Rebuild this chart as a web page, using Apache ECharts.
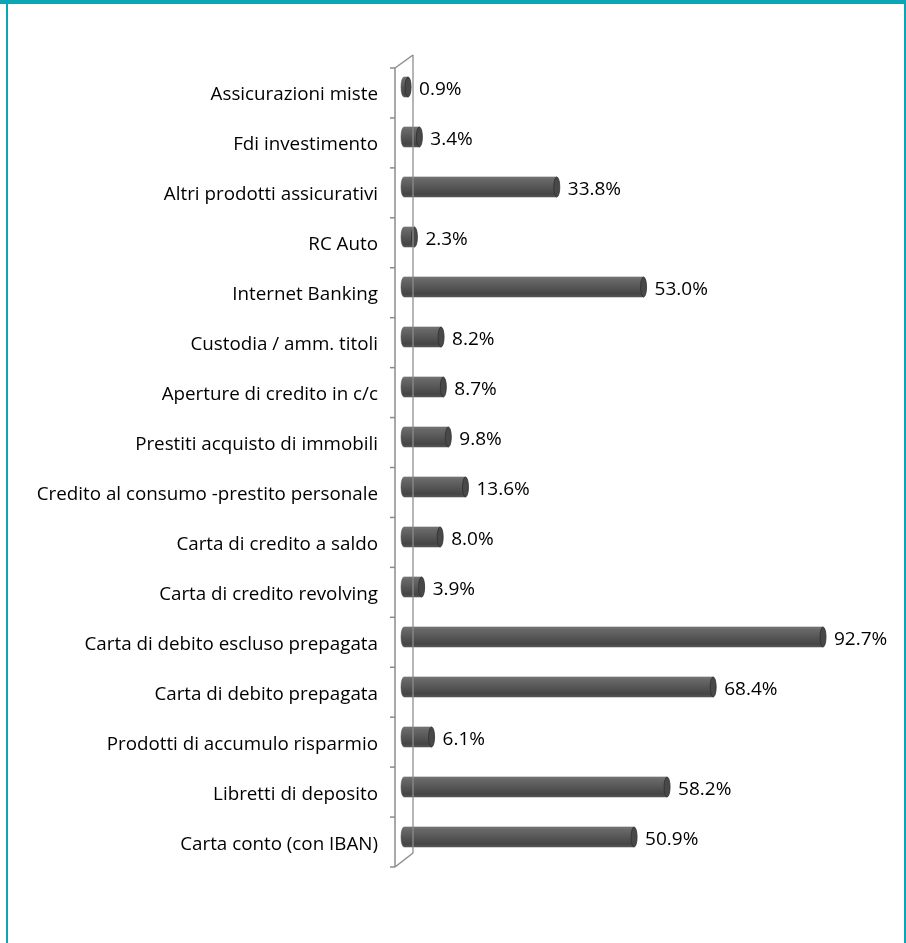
<!DOCTYPE html>
<html><head><meta charset="utf-8">
<script src="https://cdn.jsdelivr.net/npm/echarts@6/dist/echarts.min.js"></script>
<style>html,body{margin:0;padding:0;background:#fff;} #c{width:906px;height:943px;}</style>
</head><body><div id="c"></div>
<script>
const categories = ['Assicurazioni miste','Fdi investimento','Altri prodotti assicurativi','RC Auto','Internet Banking','Custodia / amm. titoli','Aperture di credito in c/c','Prestiti acquisto di immobili','Credito al consumo -prestito personale','Carta di credito a saldo','Carta di credito revolving','Carta di debito escluso prepagata','Carta di debito prepagata','Prodotti di accumulo risparmio','Libretti di deposito','Carta conto (con IBAN)'];
const values = [0.9, 3.4, 33.8, 2.3, 53.0, 8.2, 8.7, 9.8, 13.6, 8.0, 3.9, 92.7, 68.4, 6.1, 58.2, 50.9];

const GL = 404, GT = 62, GW = 452, GH = 800;
const FONT = 'Open Sans';
const chart = echarts.init(document.getElementById('c'), null, {renderer: 'canvas'});

function barGrad() {
  return {type: 'linear', x: 0, y: 0, x2: 0, y2: 1, colorStops: [
    {offset: 0, color: '#8a8a8a'}, {offset: 0.1, color: '#6a6a6a'},
    {offset: 0.45, color: '#595959'}, {offset: 0.85, color: '#444'},
    {offset: 1, color: '#5a5a5a'}]};
}

function renderItem(params, api) {
  const idx = api.value(1);
  const v = api.value(0);
  const p0 = api.coord([0, idx]);
  const p1 = api.coord([v, idx]);
  const h = 20, rx = 3;
  const x0 = p0[0], x1 = p1[0], cy = p0[1];
  const t = cy - h / 2, b = cy + h / 2;
  const body = 'M' + x0 + ' ' + t + ' L' + x1 + ' ' + t + ' L' + x1 + ' ' + b + ' L' + x0 + ' ' + b +
    ' A' + rx + ' ' + (h / 2) + ' 0 0 1 ' + x0 + ' ' + t + ' Z';
  const cap = 'M' + x1 + ' ' + t + ' A' + rx + ' ' + (h / 2) + ' 0 1 1 ' + x1 + ' ' + b +
    ' A' + rx + ' ' + (h / 2) + ' 0 1 1 ' + x1 + ' ' + t + ' Z';
  return {type: 'group', children: [
    {type: 'path', shape: {pathData: body}, style: {fill: barGrad(), stroke: '#4a4a4a', lineWidth: 0.5}},
    {type: 'path', shape: {pathData: cap}, style: {fill: '#484848', stroke: '#303030', lineWidth: 0.8}},
    {type: 'text', x: x1 + rx + 8, y: cy + 3, style: {text: v.toFixed(1) + '%', fill: '#000',
      fontSize: 19, fontFamily: FONT, verticalAlign: 'middle', align: 'left'}}
  ]};
}

// 3D axis wall decoration
const WC = '#8c8c8c';
const fx = GL - 9, bx = GL + 9;
const fTop = GT + 6, fBot = GT + GH + 5, bTop = GT - 7, bBot = GT + GH - 9;
const wall = [
  {type: 'line', shape: {x1: fx, y1: fTop, x2: fx, y2: fBot}, style: {stroke: WC, lineWidth: 1.5}},
  {type: 'line', shape: {x1: fx, y1: fTop, x2: bx, y2: bTop}, style: {stroke: WC, lineWidth: 1.5}},
  {type: 'line', shape: {x1: bx, y1: bBot, x2: fx, y2: fBot}, style: {stroke: WC, lineWidth: 1.5}},
  {type: 'line', z: 100, shape: {x1: bx, y1: bTop, x2: bx, y2: bBot}, style: {stroke: WC, lineWidth: 1.5, opacity: 0.85}}
];
const n = categories.length;
for (let i = 0; i <= n; i++) {
  const y = fTop + i * (fBot - fTop) / n;
  wall.push({type: 'line', shape: {x1: fx - 5, y1: y, x2: fx, y2: y}, style: {stroke: WC, lineWidth: 1.5}});
}
const border = [
  {type: 'rect', shape: {x: 0, y: 0, width: 906, height: 4}, style: {fill: '#0aa6b4'}},
  {type: 'rect', shape: {x: 6, y: 0, width: 2, height: 943}, style: {fill: '#0aa6b4'}},
  {type: 'rect', shape: {x: 904, y: 0, width: 2, height: 943}, style: {fill: '#0aa6b4'}}
];

chart.setOption({
  animation: false,
  backgroundColor: '#fff',
  grid: [
    {left: GL, top: GT, width: GW, height: GH, containLabel: false},
    {left: GL, top: GT + 8, width: GW, height: GH, containLabel: false}
  ],
  xAxis: [
    {type: 'value', min: 0, max: 100, show: false, gridIndex: 0},
    {type: 'value', min: 0, max: 100, show: false, gridIndex: 1}
  ],
  yAxis: [
    {type: 'category', data: categories, inverse: true, gridIndex: 0,
      axisLine: {show: false}, axisTick: {show: false}, splitLine: {show: false}, axisLabel: {show: false}},
    {type: 'category', data: categories, inverse: true, gridIndex: 1,
      axisLine: {show: false}, axisTick: {show: false}, splitLine: {show: false},
      axisLabel: {color: '#000', fontSize: 18.8, fontFamily: FONT, margin: 26}}
  ],
  graphic: {elements: wall.concat(border)},
  series: [{type: 'custom', renderItem: renderItem, xAxisIndex: 0, yAxisIndex: 0,
    encode: {x: 0, y: 1},
    data: values.map((v, i) => [v, i])}]
});
</script></body></html>
